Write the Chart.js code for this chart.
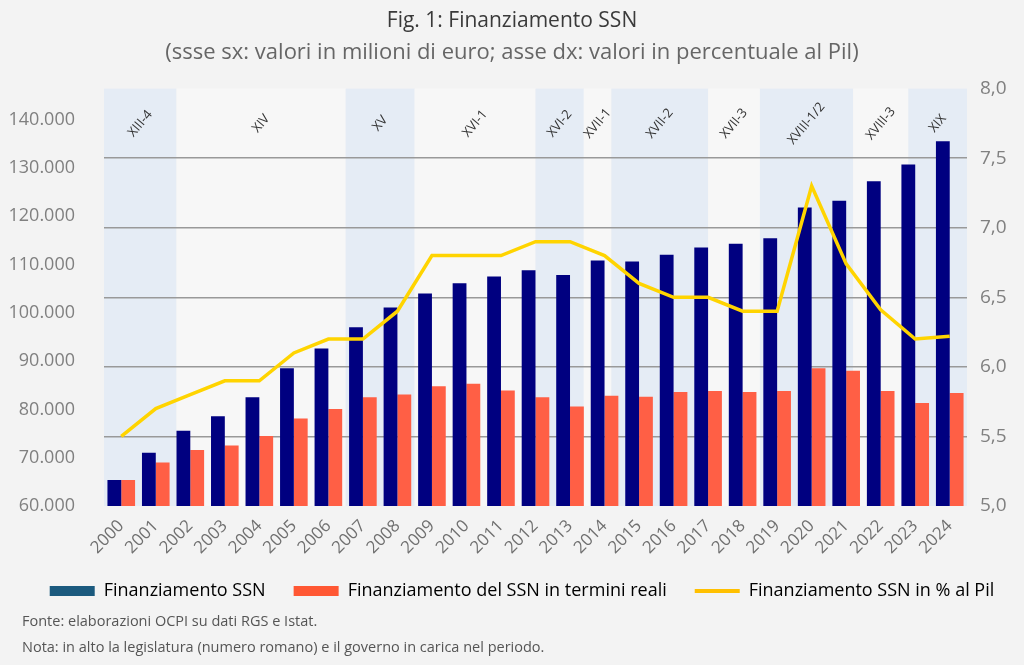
<!DOCTYPE html>
<html>
<head>
<meta charset="utf-8">
<script src="https://cdn.jsdelivr.net/npm/chart.js@4/dist/chart.umd.min.js"></script>
<style>
  body { margin: 0; background: #f3f3f3; }
  #wrap { width: 1024px; height: 665px; }
</style>
</head>
<body>
<div id="wrap"><canvas id="ssnChart" width="1024" height="665"></canvas></div>
<script>
// Data
const years = ['2000', '2001', '2002', '2003', '2004', '2005', '2006', '2007', '2008', '2009', '2010', '2011', '2012',
    '2013', '2014', '2015', '2016', '2017', '2018', '2019', '2020', '2021', '2022', '2023', '2024'];
const finanziamento = [65400, 71000, 75600, 78600, 82500, 88500, 92600, 97000, 101100, 104000, 106100, 107500, 108800,
    107800, 110800, 110600, 112000, 113500, 114300, 115400, 121800, 123200, 127200, 130700, 135500];
const finanziamentoReale = [65400, 69000, 71600, 72500, 74500, 78100, 80100, 82500, 83100, 84800, 85300, 83900, 82500,
    80600, 82800, 82600, 83600, 83800, 83600, 83800, 88500, 88000, 83800, 81300, 83400];
const finanziamentoPil = [5.5, 5.7, 5.8, 5.9, 5.9, 6.1, 6.2, 6.2, 6.4, 6.8, 6.8, 6.8, 6.9,
    6.9, 6.8, 6.6, 6.5, 6.5, 6.4, 6.4, 7.3, 6.74, 6.41, 6.2, 6.22];

// Axis ticks
const leftTicks = [60000, 70000, 80000, 90000, 100000, 110000, 120000, 130000, 140000];
const rightTicks = [5, 5.5, 6, 6.5, 7, 7.5, 8];

// Legislature / governo (start in years, last one ends at 2025)
const bandLabels = ['XIII-4', 'XIV', 'XV', 'XVI-1', 'XVI-2', 'XVII-1', 'XVII-2', 'XVII-3', 'XVIII-1/2', 'XVIII-3', 'XIX'];
const bandStart = [2000, 2002.1, 2007, 2009, 2012.5, 2013.9, 2014.7, 2017.5, 2019, 2021.7, 2023.3];
const bandEnd = 2025;

const fontFamily = '"Open Sans", "Noto Sans", sans-serif';

// Background bands and legislature labels
const bandsPlugin = {
    id: 'bands',
    beforeDraw(chart) {
        const { ctx, chartArea, scales } = chart;
        const x = scales.x;
        const cat = x.width / years.length;
        const toPx = yr => x.left + (yr - 2000) * cat;
        ctx.save();
        bandLabels.forEach((lab, i) => {
            const from = toPx(bandStart[i]);
            const to = toPx(i + 1 < bandStart.length ? bandStart[i + 1] : bandEnd);
            ctx.fillStyle = i % 2 === 0 ? '#e5ecf5' : '#f7f7f7';
            ctx.fillRect(from, chartArea.top, to - from, chartArea.bottom - chartArea.top);
        });
        bandLabels.forEach((lab, i) => {
            const from = toPx(bandStart[i]);
            const to = toPx(i + 1 < bandStart.length ? bandStart[i + 1] : bandEnd);
            ctx.save();
            ctx.translate((from + to) / 2, chartArea.top + 35);
            ctx.rotate(-50 * Math.PI / 180);
            ctx.font = '13px ' + fontFamily;
            ctx.fillStyle = '#333';
            ctx.textAlign = 'center';
            ctx.textBaseline = 'middle';
            ctx.fillText(lab, 0, 0);
            ctx.restore();
        });
        ctx.restore();
    }
};

// Nudge the legend a bit to the right, like the original
const legendShift = {
    id: 'legendShift',
    afterLayout(chart) {
        chart.legend.left += 10;
        chart.legend.right += 10;
    }
};

// Source notes
const footerPlugin = {
    id: 'footer',
    afterDraw(chart) {
        const ctx = chart.ctx;
        ctx.save();
        ctx.font = '14.5px ' + fontFamily;
        ctx.fillStyle = '#555';
        ctx.textAlign = 'left';
        ctx.textBaseline = 'middle';
        ctx.fillText('Fonte: elaborazioni OCPI su dati RGS e Istat.', 22, 622);
        ctx.fillText('Nota: in alto la legislatura (numero romano) e il governo in carica nel periodo.', 22, 648);
        ctx.restore();
    }
};

const ctx = document.getElementById('ssnChart').getContext('2d');
const ssnChart = new Chart(ctx, {
    type: 'bar',
    data: {
        labels: years,
        datasets: [{
            type: 'line',
            label: 'Finanziamento SSN in % al Pil',
            data: finanziamentoPil,
            yAxisID: 'y1',
            borderColor: '#ffd400',
            backgroundColor: '#ffc000',
            borderWidth: 3.5,
            pointRadius: 0,
            tension: 0,
            order: 0
        }, {
            label: 'Finanziamento SSN',
            data: finanziamento,
            yAxisID: 'y',
            backgroundColor: '#000080',
            categoryPercentage: 0.8,
            barPercentage: 1.0,
            order: 1
        }, {
            label: 'Finanziamento del SSN in termini reali',
            data: finanziamentoReale,
            yAxisID: 'y',
            backgroundColor: '#ff5f45',
            categoryPercentage: 0.8,
            barPercentage: 1.0,
            order: 1
        }]
    },
    options: {
        responsive: false,
        animation: false,
        devicePixelRatio: 1,
        layout: { padding: { left: 0, right: 0, top: 0, bottom: 55 } },
        plugins: {
            title: {
                display: true,
                text: 'Fig. 1: Finanziamento SSN',
                color: '#3a3a3a',
                font: { family: fontFamily, size: 21, weight: 'normal' },
                padding: { top: 8, bottom: 4 }
            },
            subtitle: {
                display: true,
                text: '(ssse sx: valori in milioni di euro; asse dx: valori in percentuale al Pil)',
                color: '#666',
                font: { family: fontFamily, size: 22 },
                padding: { top: 2, bottom: 23 }
            },
            legend: {
                position: 'bottom',
                labels: {
                    usePointStyle: true,
                    pointStyleWidth: 45,
                    boxHeight: 10,
                    padding: 28,
                    color: '#555',
                    font: { family: fontFamily, size: 18 },
                    generateLabels(chart) {
                        return [
                            { text: 'Finanziamento SSN', fillStyle: '#1b5a7e', strokeStyle: '#1b5a7e', lineWidth: 0, pointStyle: 'rect', datasetIndex: 1 },
                            { text: 'Finanziamento del SSN in termini reali', fillStyle: '#ff5733', strokeStyle: '#ff5733', lineWidth: 0, pointStyle: 'rect', datasetIndex: 2 },
                            { text: 'Finanziamento SSN in % al Pil', fillStyle: '#ffc000', strokeStyle: '#ffc000', lineWidth: 4, pointStyle: 'line', datasetIndex: 0 }
                        ];
                    }
                }
            },
            tooltip: { enabled: false }
        },
        scales: {
            x: {
                grid: { display: false },
                border: { display: false },
                ticks: {
                    color: '#707070',
                    font: { family: fontFamily, size: 17 },
                    minRotation: 45,
                    maxRotation: 45,
                    padding: 2
                },
                afterFit(scale) { scale.height = 48; }
            },
            y: {
                position: 'left',
                min: 60000,
                max: 146400,
                grid: { display: false },
                border: { display: false },
                ticks: {
                    autoSkip: false,
                    padding: 21,
                    color: '#808080',
                    font: { family: fontFamily, size: 18 },
                    callback: v => v.toLocaleString('it-IT')
                },
                afterBuildTicks(scale) {
                    scale.ticks = leftTicks.map(v => ({ value: v }));
                },
                afterFit(scale) { scale.width = 104; }
            },
            y1: {
                position: 'right',
                min: 5,
                max: 8,
                border: { display: false },
                grid: {
                    drawTicks: false,
                    lineWidth: 1.5,
                    color: c => (c.tick.value === 5 || c.tick.value === 8) ? 'rgba(0,0,0,0)' : '#999999'
                },
                ticks: {
                    autoSkip: false,
                    padding: 13,
                    color: '#808080',
                    font: { family: fontFamily, size: 19 },
                    callback: v => v.toFixed(1).replace('.', ',')
                },
                afterBuildTicks(scale) {
                    scale.ticks = rightTicks.map(v => ({ value: v }));
                },
                afterFit(scale) { scale.width = 57; }
            }
        }
    },
    plugins: [bandsPlugin, legendShift, footerPlugin]
});
</script>
</body>
</html>
